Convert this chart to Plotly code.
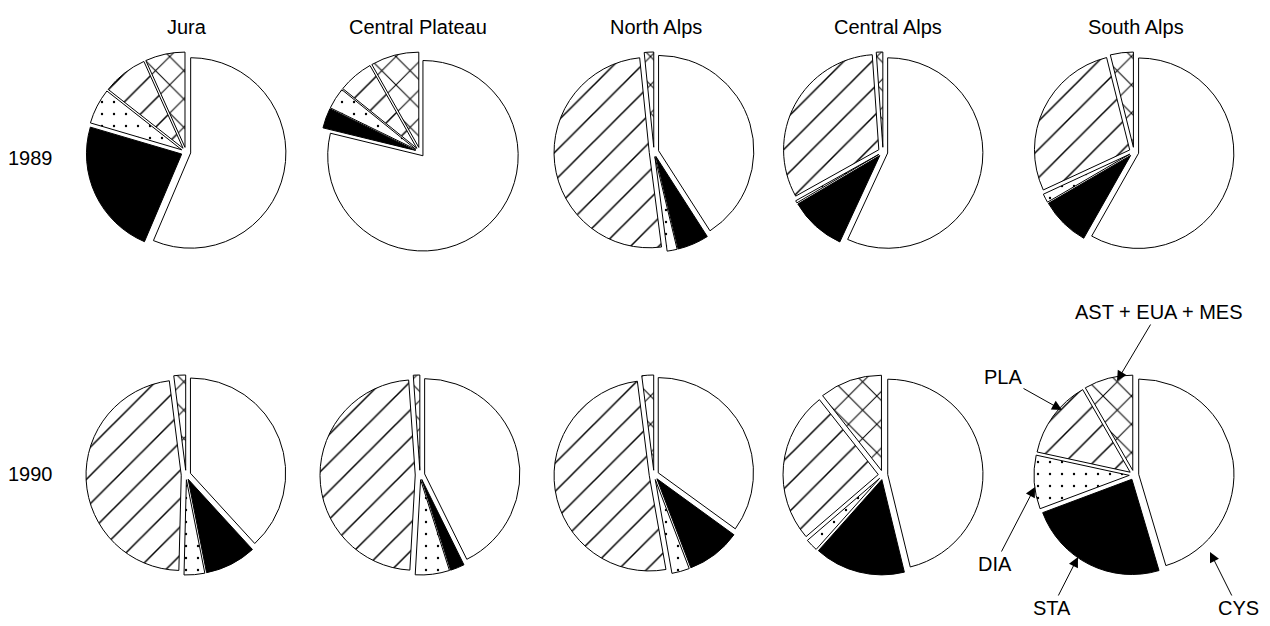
import plotly.graph_objects as go

W, H = 1270, 626

regions = ["Jura", "Central Plateau", "North Alps", "Central Alps", "South Alps"]
years = ["1989", "1990"]
groups = ["CYS", "STA", "DIA", "PLA", "AST + EUA + MES"]

# shares (%) per group, order: CYS, STA, DIA, PLA, AST+EUA+MES
jura_1989 = [56.0, 23.0, 6.0, 7.6, 6.7]
plateau_1989 = [78.8, 3.4, 3.6, 6.0, 8.2]
north_1989 = [40.8, 5.3, 1.7, 50.3, 1.6]
central_1989 = [56.9, 9.6, 0.4, 32.0, 1.1]
south_1989 = [58.2, 8.4, 1.5, 28.0, 3.9]

jura_1990 = [38.2, 8.7, 3.5, 47.6, 2.0]
plateau_1990 = [42.7, 2.4, 5.8, 48.0, 1.1]
north_1990 = [35.0, 9.2, 3.0, 50.8, 2.0]
central_1990 = [46.2, 15.4, 2.1, 25.7, 10.6]
south_1990 = [45.4, 23.9, 9.1, 13.3, 8.3]

values = {
    "1989": [jura_1989, plateau_1989, north_1989, central_1989, south_1989],
    "1990": [jura_1990, plateau_1990, north_1990, central_1990, south_1990],
}

col_cx = [186, 420, 654, 883, 1134]
row_cy = {"1989": 152, "1990": 475}
half = 100
pull = 0.05

fill_colors = ["white", "black", "white", "white", "white"]
shapes = ["", "", ".", "/", "x"]
sizes = [10, 10, 12, 20, 20]
solid = [0.1, 0.1, 0.03, 0.075, 0.1]

FONT = "Liberation Sans, Arial, Helvetica, sans-serif"

fig = go.Figure()
for yr in years:
    cy = row_cy[yr]
    for i, reg in enumerate(regions):
        cx = col_cx[i]
        fig.add_trace(go.Pie(
            labels=groups,
            values=values[yr][i],
            sort=False,
            direction="clockwise",
            rotation=0,
            pull=[pull] * len(groups),
            textinfo="none",
            hoverinfo="label+percent",
            showlegend=False,
            marker=dict(
                colors=fill_colors,
                line=dict(color="black", width=1),
                pattern=dict(shape=shapes, fgcolor="black", bgcolor=fill_colors,
                             size=sizes, solidity=solid, fillmode="replace"),
            ),
            domain=dict(x=[(cx - half) / W, (cx + half) / W],
                        y=[1 - (cy + half) / H, 1 - (cy - half) / H]),
        ))

annotations = []
title_x = [187, 418, 656, 888, 1136]
for reg, tx in zip(regions, title_x):
    annotations.append(dict(text=reg, x=tx / W, y=1 - 27 / H, xref="paper", yref="paper",
                            showarrow=False, xanchor="center", yanchor="middle",
                            font=dict(family=FONT, size=20, color="black")))
for yr, ly in zip(years, [158, 474]):
    annotations.append(dict(text=yr, x=30 / W, y=1 - ly / H, xref="paper", yref="paper",
                            showarrow=False, xanchor="center", yanchor="middle",
                            font=dict(family=FONT, size=20, color="black")))

# labelled arrows on South Alps 1990: (text, tip_x, tip_y, text_x, text_y)
callouts = [
    ("AST + EUA + MES", 1117, 381, 1158, 312),
    ("PLA", 1062, 410, 1003, 377),
    ("DIA", 1035, 487, 995, 564),
    ("STA", 1078, 557, 1052, 608),
    ("CYS", 1210, 552, 1238, 608),
]
for txt, tx, ty, lx, ly in callouts:
    annotations.append(dict(text=txt, x=tx / W, y=1 - ty / H, xref="paper", yref="paper",
                            ax=lx - tx, ay=ly - ty, showarrow=True,
                            arrowhead=2, arrowsize=2, arrowwidth=1, arrowcolor="black",
                            font=dict(family=FONT, size=20, color="black")))

fig.update_layout(
    width=W, height=H,
    margin=dict(l=0, r=0, t=0, b=0),
    paper_bgcolor="white", plot_bgcolor="white",
    annotations=annotations,
    font=dict(family=FONT, size=20, color="black"),
)

fig.write_html("out.html", config={"displayModeBar": False})

# remove the default page margin so the figure sits at the window's top-left corner
with open("out.html", "r", encoding="utf-8") as f:
    html = f.read()
html = html.replace("<body>", '<body style="margin:0;padding:0;overflow:hidden">', 1)
with open("out.html", "w", encoding="utf-8") as f:
    f.write(html)
